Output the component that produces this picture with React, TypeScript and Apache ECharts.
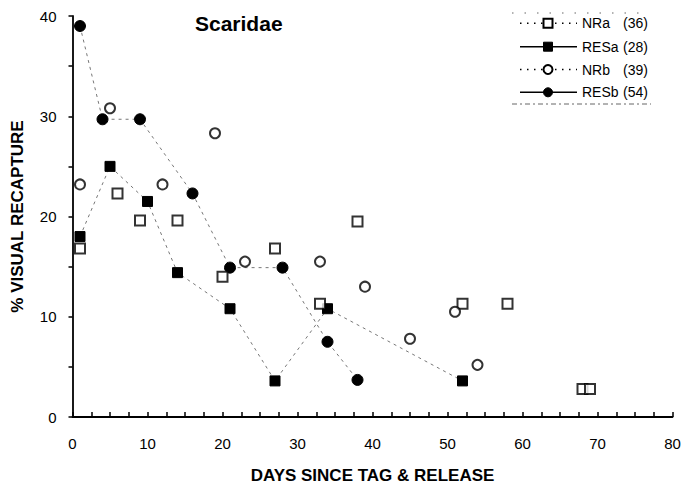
import React, { useEffect, useRef } from "react";
import * as echarts from "echarts";

// Days since tag & release / % visual recapture
const nraData: [number, number][] = [
  [1, 16.8], [6, 22.3], [9, 19.6], [14, 19.6], [20, 14.0], [27, 16.8],
  [33, 11.3], [38, 19.5], [52, 11.3], [58, 11.3], [68, 2.8], [69, 2.8],
];
const resaData: [number, number][] = [
  [1, 18.0], [5, 25.0], [10, 21.5], [14, 14.4], [21, 10.8], [27, 3.6], [34, 10.8], [52, 3.6],
];
const nrbData: [number, number][] = [
  [1, 23.2], [5, 30.8], [12, 23.2], [19, 28.3], [23, 15.5], [33, 15.5],
  [39, 13.0], [45, 7.8], [51, 10.5], [54, 5.2],
];
const resbData: [number, number][] = [
  [1, 39.0], [4, 29.7], [9, 29.7], [16, 22.3], [21, 14.9], [28, 14.9], [34, 7.5], [38, 3.7],
];

const legendNames = ["NRa", "RESa", "NRb", "RESb"];
const legendCounts = ["(36)", "(28)", "(39)", "(54)"];
const legendKinds = ["openSquare", "filledSquare", "openCircle", "filledCircle"];

const titleText = "Scaridae";
const xName = "DAYS SINCE TAG & RELEASE";
const yName = "% VISUAL RECAPTURE";

const FONT = "'Liberation Sans', Arial, Helvetica, sans-serif";

function buildLegend() {
  const rowsY = [23.3, 46.7, 69.5, 92.3];
  const els: any[] = [];
  els.push({
    type: "line",
    shape: { x1: 512, y1: 13, x2: 641, y2: 13 },
    style: { stroke: "#666", lineWidth: 1, lineDash: [1.5, 11] },
  });
  els.push({
    type: "line",
    shape: { x1: 512, y1: 104, x2: 651, y2: 104 },
    style: { stroke: "#666", lineWidth: 1, lineDash: [5, 3, 2, 3] },
  });
  legendNames.forEach((name, i) => {
    const y = rowsY[i];
    const kind = legendKinds[i];
    const dotted = kind.startsWith("open");
    els.push({
      type: "line",
      shape: { x1: 520, y1: y, x2: 577, y2: y },
      style: dotted
        ? { stroke: "#000", lineWidth: 1.5, lineDash: [1.5, 5.5] }
        : { stroke: "#000", lineWidth: 1.5 },
    });
    const open = kind.startsWith("open");
    const style = open
      ? { fill: "#fff", stroke: "#000", lineWidth: 2 }
      : { fill: "#000", stroke: "#000", lineWidth: 1 };
    if (kind.endsWith("Square")) {
      els.push({ type: "rect", shape: { x: 543.5, y: y - 4.5, width: 9, height: 9 }, style });
    } else {
      els.push({ type: "circle", shape: { cx: 548, cy: y, r: 4.5 }, style });
    }
    els.push({
      type: "text",
      x: 582,
      y,
      style: { text: name, fontSize: 14, fontFamily: FONT, fill: "#000", verticalAlign: "middle", align: "left" },
    });
    els.push({
      type: "text",
      x: 648,
      y,
      style: { text: legendCounts[i], fontSize: 14, fontFamily: FONT, fill: "#000", verticalAlign: "middle", align: "right" },
    });
  });
  return els;
}

export default function App() {
  const ref = useRef<HTMLDivElement>(null);
  useEffect(() => {
    if (!ref.current) return;
    const chart = echarts.init(ref.current, undefined, { renderer: "svg" });
    const openStyle = { color: "#fff", borderColor: "#000", borderWidth: 2 };
    const filledStyle = { color: "#000", borderColor: "#000", borderWidth: 1 };
    const resLine = { color: "#777", width: 1, type: [3, 4] as any };
    chart.setOption({
      animation: false,
      backgroundColor: "#fff",
      textStyle: { fontFamily: FONT },
      title: {
        text: titleText,
        left: 195,
        top: 13,
        padding: 0,
        textStyle: { fontSize: 21, fontWeight: "bold", color: "#000", fontFamily: FONT },
      },
      grid: { left: 72.5, right: 14.5, top: 16, bottom: 70, outerBoundsMode: "none", containLabel: false },
      xAxis: {
        type: "value",
        min: 0,
        max: 80,
        interval: 2.5,
        name: xName,
        nameLocation: "middle",
        nameGap: 50,
        nameTextStyle: { fontSize: 17, fontWeight: "bold", color: "#000", fontFamily: FONT },
        axisLine: { show: true, lineStyle: { color: "#000", width: 1.8 } },
        axisTick: { show: true, inside: true, length: 5, lineStyle: { color: "#000", width: 1.5 } },
        axisLabel: {
          margin: 19,
          fontSize: 15,
          color: "#000",
          fontFamily: FONT,
          formatter: (v: number) => (v % 10 === 0 ? String(v) : ""),
        },
        splitLine: { show: false },
      },
      yAxis: {
        type: "value",
        min: 0,
        max: 40,
        interval: 5,
        name: yName,
        nameLocation: "middle",
        nameGap: 47,
        nameRotate: 90,
        nameTextStyle: { fontSize: 17, fontWeight: "bold", color: "#000", fontFamily: FONT },
        axisLine: { show: true, lineStyle: { color: "#000", width: 1.8 } },
        axisTick: { show: true, inside: false, length: 4, lineStyle: { color: "#000", width: 1.5 } },
        axisLabel: {
          margin: 16,
          fontSize: 15,
          color: "#000",
          fontFamily: FONT,
          formatter: (v: number) => (v % 10 === 0 ? String(v) : ""),
        },
        splitLine: { show: false },
      },
      series: [
        {
          name: "RESa",
          type: "line",
          data: resaData,
          symbol: "rect",
          symbolSize: 10,
          itemStyle: filledStyle,
          lineStyle: resLine,
          z: 3,
        },
        {
          name: "RESb",
          type: "line",
          data: resbData,
          symbol: "circle",
          symbolSize: 11,
          itemStyle: filledStyle,
          lineStyle: resLine,
          z: 3,
        },
        {
          name: "NRa",
          type: "scatter",
          data: nraData,
          symbol: "rect",
          symbolSize: 10,
          itemStyle: openStyle,
          z: 4,
        },
        {
          name: "NRb",
          type: "scatter",
          data: nrbData,
          symbol: "circle",
          symbolSize: 10,
          itemStyle: openStyle,
          z: 4,
        },
      ],
      graphic: buildLegend(),
    });
    return () => chart.dispose();
  }, []);
  return (
    <div
      ref={ref}
      style={{ position: "fixed", left: 0, top: 0, width: 687, height: 487, background: "#fff" }}
    />
  );
}
